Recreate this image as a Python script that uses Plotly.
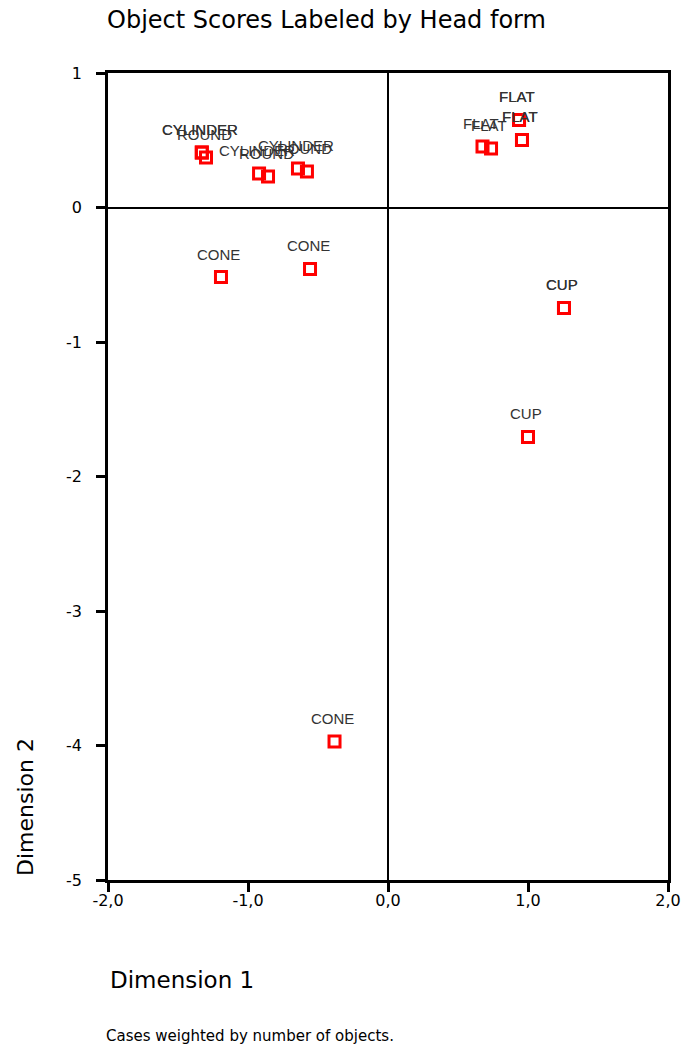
import plotly.graph_objects as go

# Object scores (duplicates = coinciding weighted cases)
dim1 = [-1.33, -1.33, -1.30, -0.921, -0.857, -0.643, -0.579,
        -1.193, -0.557, -0.382,
        1.257, 1.257, 1.000,
        0.936, 0.936, 0.957, 0.957, 0.675, 0.736]
dim2 = [0.409, 0.409, 0.372, 0.253, 0.230, 0.290, 0.268,
        -0.517, -0.457, -3.970,
        -0.747, -0.747, -1.706,
        0.651, 0.651, 0.502, 0.502, 0.454, 0.439]
head_form = ["CYLINDER", "CYLINDER", "ROUND", "CYLINDER", "ROUND", "CYLINDER", "ROUND",
             "CONE", "CONE", "CONE",
             "CUP", "CUP", "CUP",
             "FLAT", "FLAT", "FLAT", "FLAT", "FLAT", "FLAT"]

x_tickvals = [-2, -1, 0, 1, 2]
x_ticktext = ["-2,0", "-1,0", "0,0", "1,0", "2,0"]
y_tickvals = [1, 0, -1, -2, -3, -4, -5]
y_ticktext = ["1", "0", "-1", "-2", "-3", "-4", "-5"]

W, H = 685, 1044
L, R, T, B = 108, 17, 73, 164

fig = go.Figure()
fig.add_trace(go.Scatter(
    x=dim1, y=dim2, mode="markers",
    marker=dict(symbol="square-open", size=11, color="#ff0000",
                line=dict(color="#ff0000", width=3)),
    hoverinfo="skip", showlegend=False,
))

for xv, yv, lab in zip(dim1, dim2, head_form):
    fig.add_annotation(x=xv, y=yv, xref="x", yref="y", text=lab, showarrow=False,
                       yshift=23, xshift=-2, xanchor="center", yanchor="middle",
                       font=dict(family="Liberation Sans", size=15, color="#333333"))

axis_common = dict(showline=True, linecolor="black", linewidth=2.5, mirror=True,
                   showgrid=False, zeroline=True, zerolinecolor="black", zerolinewidth=2,
                   ticks="outside", ticklen=9, tickwidth=2.5, tickcolor="black",
                   automargin=False,
                   tickfont=dict(family="DejaVu Sans", size=16, color="black"))

fig.update_xaxes(range=[-2, 2], tickvals=x_tickvals, ticktext=x_ticktext,
                 ticklabelstandoff=-5, **axis_common)
fig.update_yaxes(range=[-5, 1], tickvals=y_tickvals, ticktext=y_ticktext,
                 ticklabelstandoff=11, **axis_common)

pw, ph = W - L - R, H - T - B

fig.add_annotation(text="Dimension 1", xref="paper", yref="paper",
                   x=0, y=(880 - 980) / ph, xanchor="left", yanchor="middle",
                   showarrow=False, font=dict(family="DejaVu Sans", size=23, color="black"))
fig.add_annotation(text="Dimension 2", xref="paper", yref="paper",
                   x=(25 - L) / pw, y=(880 - 878) / ph, xanchor="center", yanchor="bottom",
                   textangle=-90, showarrow=False,
                   font=dict(family="DejaVu Sans", size=22, color="black"))
fig.add_annotation(text="Cases weighted by number of objects.", xref="paper", yref="paper",
                   x=(104 - L) / pw, y=(880 - 1036) / ph, xanchor="left", yanchor="middle",
                   showarrow=False, font=dict(family="DejaVu Sans", size=15, color="black"))

fig.update_layout(
    width=W, height=H, autosize=False,
    margin=dict(l=L, r=R, t=T, b=B),
    paper_bgcolor="white", plot_bgcolor="white",
    title=dict(text="Object Scores Labeled by Head form", xref="container", yref="container",
               x=107 / W, y=1 - 20 / H, xanchor="left", yanchor="middle",
               font=dict(family="DejaVu Sans", size=24, color="black")),
)

fig.write_html("out.html",
               config={"responsive": False, "displayModeBar": False},
               post_script="document.documentElement.style.overflow='hidden';"
                           "document.body.style.overflow='hidden';"
                           "document.body.style.margin='0';")
